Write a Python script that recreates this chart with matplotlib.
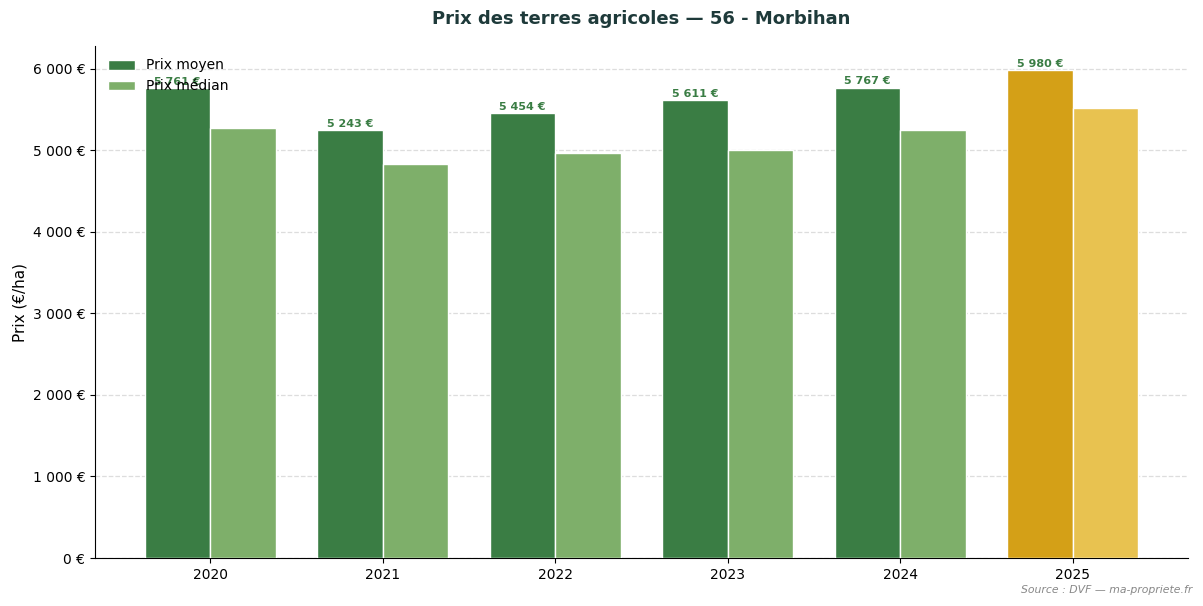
import matplotlib
matplotlib.use("Agg")
import matplotlib.pyplot as plt
import numpy as np

years = [2020, 2021, 2022, 2023, 2024, 2025]
prix_moyen = [5761, 5243, 5454, 5611, 5767, 5980]
prix_median = [5276, 4834, 4969, 5006, 5252, 5521]

c_moy = "#3a7d44"
c_med = "#7eaf6a"
c_moy_hl = "#d4a017"
c_med_hl = "#e8c250"

fig = plt.figure(figsize=(12.03, 6.06), dpi=100)
ax = fig.add_axes([95/1203, 1-558/606, (1188-95)/1203, (558-46)/606])

w = 0.38
x = np.array(years, dtype=float)
cols_moy = [c_moy_hl if y == 2025 else c_moy for y in years]
cols_med = [c_med_hl if y == 2025 else c_med for y in years]
b1 = ax.bar(x - w/2, prix_moyen, w, color=cols_moy, edgecolor="white", linewidth=1, label="Prix moyen", zorder=3)
b2 = ax.bar(x + w/2, prix_median, w, color=cols_med, edgecolor="white", linewidth=1, label="Prix médian", zorder=3)

for xi, v in zip(x, prix_moyen):
    ax.text(xi - w/2, v + 20, f"{v:,}".replace(",", " ") + " €", ha="center", va="bottom",
            fontsize=8, fontweight="bold", color=c_moy, zorder=4)

ax.set_xticks(years)
ax.set_xticklabels([str(y) for y in years])
yt = np.arange(0, 6001, 1000)
ax.set_yticks(yt)
ax.set_yticklabels([f"{int(v):,}".replace(",", " ") + " €" for v in yt])
ax.set_ylabel("Prix (€/ha)", fontsize=11)
ax.set_title("Prix des terres agricoles — 56 - Morbihan", fontsize=13, fontweight="bold", color="#1e3a3a", pad=16)
ax.grid(axis="y", linestyle="--", color="#dddddd", linewidth=0.9, zorder=0)
ax.set_axisbelow(True)
for s in ["top", "right"]:
    ax.spines[s].set_visible(False)
ax.legend(loc="upper left", frameon=False, fontsize=10)
fig.text(1192/1203, 1-590/606, "Source : DVF — ma-propriete.fr", ha="right", va="center",
         fontsize=7.8, style="italic", color="#888888")
fig.savefig("out.png", dpi=100)
